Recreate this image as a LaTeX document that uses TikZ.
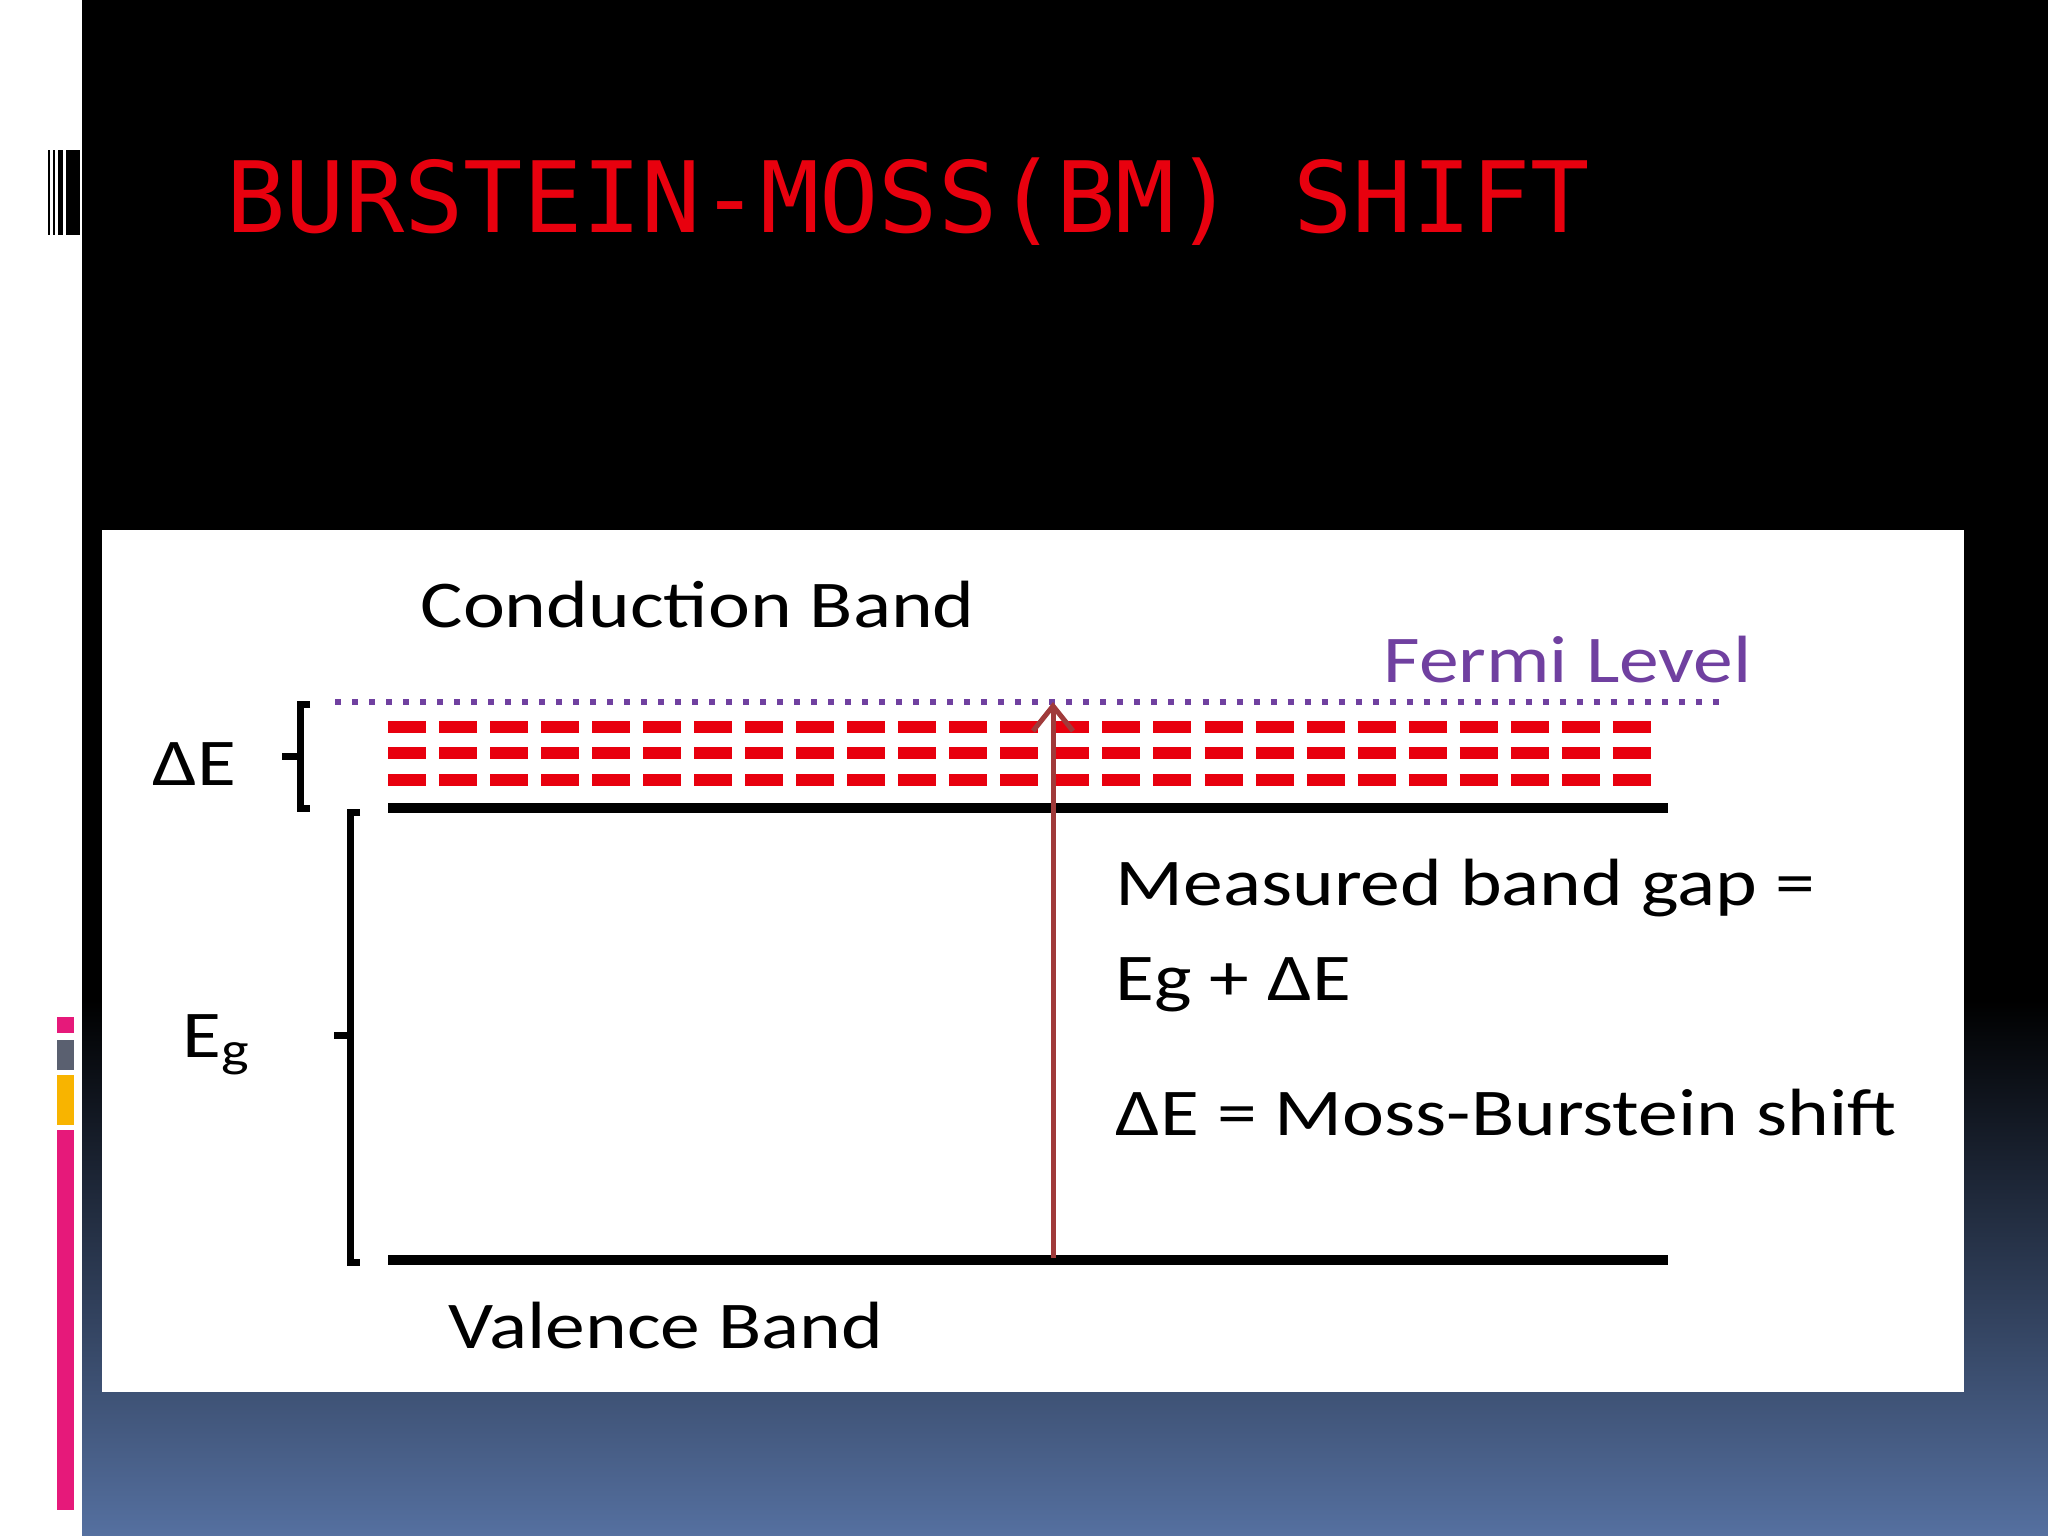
\documentclass[tikz,border=0pt]{standalone}
\usepackage{fontspec}
\setmainfont{Carlito}[FakeStretch=1.19]
\newfontfamily\titlefont{DejaVu Sans Mono}
\usetikzlibrary{arrows.meta}
\definecolor{bmred}{HTML}{E8000E}
\definecolor{fermi}{HTML}{7040A0}
\definecolor{arrowc}{HTML}{A03A3A}
\definecolor{pinkc}{HTML}{E6197A}
\definecolor{grayc}{HTML}{5A6070}
\definecolor{yelc}{HTML}{F8B400}
\definecolor{bluebot}{HTML}{5570A0}
\tikzset{lbl/.style={font=\fontsize{19pt}{22pt}\selectfont,inner sep=0pt,anchor=base west},
 band/.style={line width=0.1cm},
 states/.style={bmred,line width=0.12cm,dash pattern=on 0.38cm off 0.13cm}}
\begin{document}
\begin{tikzpicture}[x=0.01cm,y=-0.01cm]
\useasboundingbox (0,0) rectangle (2048,1536);
\fill[white] (0,0) rectangle (2048,1536);
\fill[black] (82,0) rectangle (2048,1000);
\shade[top color=black,bottom color=bluebot] (82,1000) rectangle (2048,1536);
% barcode
\foreach \a/\b in {48/50,53/55,58/63,66/80}{\fill[black] (\a,150) rectangle (\b,235);}
% stripes
\fill[pinkc] (57,1017) rectangle (74,1033);
\fill[grayc] (57,1040) rectangle (74,1070);
\fill[yelc] (57,1075) rectangle (74,1125);
\fill[pinkc] (57,1130) rectangle (74,1510);
\node[text=bmred,font=\titlefont\fontsize{28pt}{32pt}\selectfont,anchor=base west,inner sep=0pt] (title) at (226,232) {BURSTEIN-MOSS(BM) SHIFT};
% panel
\fill[white] (102,530) rectangle (1964,1392);
\node[lbl] (cb) at (420,627) {Conduction Band};
\node[lbl,text=fermi] (fl) at (1383,682) {Fermi Level};
\draw[fermi,line width=0.06cm,dash pattern=on 0.06cm off 0.11cm] (335,702) -- (1720,702);
\foreach \y in {727,753,780}{\draw[states] (388,\y) -- (1660,\y);}
\coordinate (cbl) at (388,808); \coordinate (cbr) at (1668,808);
\coordinate (vbl) at (388,1260); \coordinate (vbr) at (1668,1260);
\draw[band] (cbl) -- (cbr);
\draw[band] (vbl) -- (vbr);
\coordinate (as) at (1053,1258); \coordinate (ae) at (1053,702);
\draw[arrowc,line width=0.05cm,-{Straight Barb[length=0.25cm,width=0.4cm]}] (as) -- (ae);
\node[lbl] (m1) at (1115,905) {Measured band gap =};
\node[lbl] (m2) at (1115,1000) {Eg + ΔE};
\node[lbl] (m3) at (1115,1135) {ΔE = Moss-Burstein shift};
% brackets
\draw[line width=0.07cm] (310,704) -- (300,704) -- (300,808) -- (310,808);
\draw[line width=0.07cm] (300,756) -- (282,756);
\draw[line width=0.07cm] (360,812) -- (350,812) -- (350,1262) -- (360,1262);
\draw[line width=0.07cm] (350,1035) -- (334,1035);
\node[lbl] (de) at (152,785) {ΔE};
\node[lbl] (eg) at (182,1057) {E\raisebox{-0.3ex}{\fontsize{14pt}{16pt}\selectfont g}};
\node[lbl] (vb) at (448,1348) {Valence Band};
\end{tikzpicture}
\end{document}
